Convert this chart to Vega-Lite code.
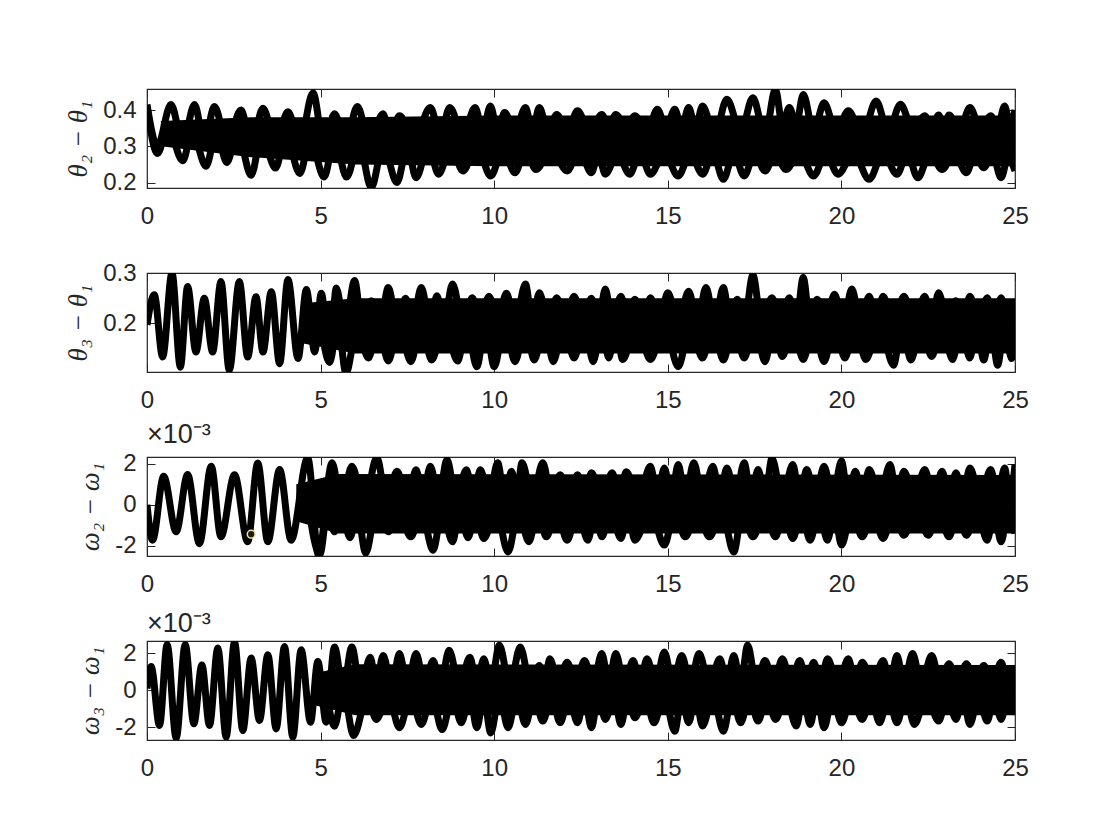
{
"$schema": "https://vega.github.io/schema/vega-lite/v6.json",
"background": "white",
"padding": {"left": 64, "top": 87, "right": 20, "bottom": 20},
"spacing": 85,
"bounds": "flush",
"datasets": {
"band": [
{"p":1,"t":0.4,"lo":0.30,"hi":0.37},{"p":1,"t":3,"lo":0.27,"hi":0.38},{"p":1,"t":6,"lo":0.25,"hi":0.38},{"p":1,"t":10,"lo":0.245,"hi":0.385},{"p":1,"t":15,"lo":0.245,"hi":0.385},{"p":1,"t":20,"lo":0.245,"hi":0.385},{"p":1,"t":25,"lo":0.245,"hi":0.385},
{"p":2,"t":4.5,"lo":0.16,"hi":0.24},{"p":2,"t":6,"lo":0.14,"hi":0.25},{"p":2,"t":10,"lo":0.14,"hi":0.25},{"p":2,"t":25,"lo":0.14,"hi":0.25},
{"p":3,"t":4.3,"lo":-0.8,"hi":1.0},{"p":3,"t":5.5,"lo":-1.4,"hi":1.5},{"p":3,"t":25,"lo":-1.4,"hi":1.45},
{"p":4,"t":4.8,"lo":-0.8,"hi":0.9},{"p":4,"t":6,"lo":-1.35,"hi":1.4},{"p":4,"t":25,"lo":-1.35,"hi":1.35}
],
"marker": [{"p":3,"t":3.0,"v":-1.43}],
"lines": [
{"p":1,"s":"u","t":0,"v":0.415},{"p":1,"s":"u","t":0.3,"v":0.30},{"p":1,"s":"u","t":0.69,"v":0.415},{"p":1,"s":"u","t":1.03,"v":0.31},{"p":1,"s":"u","t":1.37,"v":0.415},{"p":1,"s":"u","t":1.65,"v":0.31},{"p":1,"s":"u","t":1.94,"v":0.41},{"p":1,"s":"u","t":2.3,"v":0.31},{"p":1,"s":"u","t":2.71,"v":0.40},{"p":1,"s":"u","t":3.0,"v":0.30},{"p":1,"s":"u","t":3.34,"v":0.405},{"p":1,"s":"u","t":3.7,"v":0.31},{"p":1,"s":"u","t":4.06,"v":0.395},{"p":1,"s":"u","t":4.4,"v":0.31},{"p":1,"s":"u","t":4.78,"v":0.448},{"p":1,"s":"u","t":5.1,"v":0.30},{"p":1,"s":"u","t":5.4,"v":0.39},{"p":1,"s":"u","t":5.72,"v":0.31},{"p":1,"s":"u","t":6.06,"v":0.41},{"p":1,"s":"u","t":6.4,"v":0.31},{"p":1,"s":"u","t":6.8,"v":0.39},{"p":1,"s":"u","t":7.0,"v":0.32},{"p":1,"s":"u","t":7.27,"v":0.384},{"p":1,"s":"u","t":7.7,"v":0.32},{"p":1,"s":"u","t":8.16,"v":0.407},{"p":1,"s":"u","t":8.45,"v":0.33},{"p":1,"s":"u","t":8.72,"v":0.407},{"p":1,"s":"u","t":9.1,"v":0.33},{"p":1,"s":"u","t":9.45,"v":0.407},{"p":1,"s":"u","t":9.67,"v":0.34},{"p":1,"s":"u","t":9.89,"v":0.411},{"p":1,"s":"u","t":10.1,"v":0.34},{"p":1,"s":"u","t":10.3,"v":0.393},{"p":1,"s":"u","t":10.6,"v":0.34},{"p":1,"s":"u","t":10.9,"v":0.407},{"p":1,"s":"u","t":11.1,"v":0.34},{"p":1,"s":"u","t":11.3,"v":0.407},{"p":1,"s":"u","t":11.55,"v":0.34},{"p":1,"s":"u","t":11.8,"v":0.388},{"p":1,"s":"u","t":12.1,"v":0.34},{"p":1,"s":"u","t":12.4,"v":0.398},{"p":1,"s":"u","t":12.75,"v":0.34},{"p":1,"s":"u","t":13.1,"v":0.388},{"p":1,"s":"u","t":13.3,"v":0.35},{"p":1,"s":"u","t":13.5,"v":0.388},{"p":1,"s":"u","t":13.8,"v":0.35},{"p":1,"s":"u","t":14.05,"v":0.384},{"p":1,"s":"u","t":14.4,"v":0.34},{"p":1,"s":"u","t":14.7,"v":0.402},{"p":1,"s":"u","t":14.95,"v":0.35},{"p":1,"s":"u","t":15.2,"v":0.402},{"p":1,"s":"u","t":15.4,"v":0.35},{"p":1,"s":"u","t":15.6,"v":0.407},{"p":1,"s":"u","t":15.8,"v":0.35},{"p":1,"s":"u","t":16.0,"v":0.411},{"p":1,"s":"u","t":16.35,"v":0.33},{"p":1,"s":"u","t":16.7,"v":0.43},{"p":1,"s":"u","t":17.1,"v":0.34},{"p":1,"s":"u","t":17.45,"v":0.434},{"p":1,"s":"u","t":17.8,"v":0.33},{"p":1,"s":"u","t":18.1,"v":0.457},{"p":1,"s":"u","t":18.3,"v":0.36},{"p":1,"s":"u","t":18.5,"v":0.407},{"p":1,"s":"u","t":18.7,"v":0.36},{"p":1,"s":"u","t":18.9,"v":0.443},{"p":1,"s":"u","t":19.2,"v":0.34},{"p":1,"s":"u","t":19.5,"v":0.42},{"p":1,"s":"u","t":19.85,"v":0.34},{"p":1,"s":"u","t":20.2,"v":0.398},{"p":1,"s":"u","t":20.6,"v":0.33},{"p":1,"s":"u","t":21.0,"v":0.425},{"p":1,"s":"u","t":21.35,"v":0.34},{"p":1,"s":"u","t":21.7,"v":0.416},{"p":1,"s":"u","t":22.05,"v":0.35},{"p":1,"s":"u","t":22.4,"v":0.384},{"p":1,"s":"u","t":22.6,"v":0.35},{"p":1,"s":"u","t":22.8,"v":0.386},{"p":1,"s":"u","t":22.95,"v":0.35},{"p":1,"s":"u","t":23.1,"v":0.386},{"p":1,"s":"u","t":23.4,"v":0.34},{"p":1,"s":"u","t":23.7,"v":0.407},{"p":1,"s":"u","t":24.0,"v":0.35},{"p":1,"s":"u","t":24.3,"v":0.384},{"p":1,"s":"u","t":24.5,"v":0.35},{"p":1,"s":"u","t":24.7,"v":0.411},{"p":1,"s":"u","t":24.85,"v":0.36},{"p":1,"s":"u","t":25,"v":0.40},
{"p":1,"s":"l","t":0,"v":0.41},{"p":1,"s":"l","t":0.3,"v":0.28},{"p":1,"s":"l","t":0.6,"v":0.35},{"p":1,"s":"l","t":1.03,"v":0.26},{"p":1,"s":"l","t":1.3,"v":0.34},{"p":1,"s":"l","t":1.7,"v":0.245},{"p":1,"s":"l","t":2.0,"v":0.34},{"p":1,"s":"l","t":2.3,"v":0.255},{"p":1,"s":"l","t":2.6,"v":0.34},{"p":1,"s":"l","t":3.0,"v":0.22},{"p":1,"s":"l","t":3.3,"v":0.33},{"p":1,"s":"l","t":3.7,"v":0.24},{"p":1,"s":"l","t":4.0,"v":0.33},{"p":1,"s":"l","t":4.4,"v":0.225},{"p":1,"s":"l","t":4.7,"v":0.32},{"p":1,"s":"l","t":5.1,"v":0.215},{"p":1,"s":"l","t":5.4,"v":0.32},{"p":1,"s":"l","t":5.75,"v":0.215},{"p":1,"s":"l","t":6.1,"v":0.31},{"p":1,"s":"l","t":6.46,"v":0.186},{"p":1,"s":"l","t":6.8,"v":0.30},{"p":1,"s":"l","t":7.2,"v":0.20},{"p":1,"s":"l","t":7.5,"v":0.30},{"p":1,"s":"l","t":7.75,"v":0.213},{"p":1,"s":"l","t":8.1,"v":0.30},{"p":1,"s":"l","t":8.4,"v":0.223},{"p":1,"s":"l","t":8.75,"v":0.30},{"p":1,"s":"l","t":9.1,"v":0.232},{"p":1,"s":"l","t":9.5,"v":0.30},{"p":1,"s":"l","t":9.9,"v":0.218},{"p":1,"s":"l","t":10.25,"v":0.29},{"p":1,"s":"l","t":10.6,"v":0.227},{"p":1,"s":"l","t":10.9,"v":0.29},{"p":1,"s":"l","t":11.2,"v":0.236},{"p":1,"s":"l","t":11.65,"v":0.29},{"p":1,"s":"l","t":12.1,"v":0.232},{"p":1,"s":"l","t":12.45,"v":0.29},{"p":1,"s":"l","t":12.8,"v":0.227},{"p":1,"s":"l","t":13.0,"v":0.28},{"p":1,"s":"l","t":13.2,"v":0.223},{"p":1,"s":"l","t":13.55,"v":0.28},{"p":1,"s":"l","t":13.9,"v":0.223},{"p":1,"s":"l","t":14.2,"v":0.28},{"p":1,"s":"l","t":14.5,"v":0.223},{"p":1,"s":"l","t":14.9,"v":0.28},{"p":1,"s":"l","t":15.3,"v":0.218},{"p":1,"s":"l","t":15.65,"v":0.28},{"p":1,"s":"l","t":16.0,"v":0.223},{"p":1,"s":"l","t":16.3,"v":0.28},{"p":1,"s":"l","t":16.6,"v":0.209},{"p":1,"s":"l","t":16.9,"v":0.28},{"p":1,"s":"l","t":17.2,"v":0.218},{"p":1,"s":"l","t":17.5,"v":0.28},{"p":1,"s":"l","t":17.8,"v":0.232},{"p":1,"s":"l","t":18.1,"v":0.28},{"p":1,"s":"l","t":18.4,"v":0.236},{"p":1,"s":"l","t":18.8,"v":0.28},{"p":1,"s":"l","t":19.2,"v":0.218},{"p":1,"s":"l","t":19.55,"v":0.28},{"p":1,"s":"l","t":19.9,"v":0.223},{"p":1,"s":"l","t":20.35,"v":0.28},{"p":1,"s":"l","t":20.8,"v":0.209},{"p":1,"s":"l","t":21.2,"v":0.28},{"p":1,"s":"l","t":21.6,"v":0.223},{"p":1,"s":"l","t":21.9,"v":0.28},{"p":1,"s":"l","t":22.2,"v":0.213},{"p":1,"s":"l","t":22.55,"v":0.28},{"p":1,"s":"l","t":22.9,"v":0.236},{"p":1,"s":"l","t":23.25,"v":0.28},{"p":1,"s":"l","t":23.6,"v":0.227},{"p":1,"s":"l","t":23.85,"v":0.28},{"p":1,"s":"l","t":24.1,"v":0.241},{"p":1,"s":"l","t":24.35,"v":0.28},{"p":1,"s":"l","t":24.6,"v":0.213},{"p":1,"s":"l","t":24.8,"v":0.27},{"p":1,"s":"l","t":25,"v":0.232},
{"p":2,"s":"u","t":0,"v":0.197},{"p":2,"s":"u","t":0.21,"v":0.257},{"p":2,"s":"u","t":0.45,"v":0.133},{"p":2,"s":"u","t":0.72,"v":0.3},{"p":2,"s":"u","t":0.96,"v":0.113},{"p":2,"s":"u","t":1.17,"v":0.273},{"p":2,"s":"u","t":1.41,"v":0.143},{"p":2,"s":"u","t":1.65,"v":0.25},{"p":2,"s":"u","t":1.89,"v":0.143},{"p":2,"s":"u","t":2.13,"v":0.283},{"p":2,"s":"u","t":2.37,"v":0.107},{"p":2,"s":"u","t":2.66,"v":0.283},{"p":2,"s":"u","t":2.9,"v":0.133},{"p":2,"s":"u","t":3.14,"v":0.253},{"p":2,"s":"u","t":3.34,"v":0.143},{"p":2,"s":"u","t":3.58,"v":0.263},{"p":2,"s":"u","t":3.82,"v":0.12},{"p":2,"s":"u","t":4.06,"v":0.287},{"p":2,"s":"u","t":4.35,"v":0.13},{"p":2,"s":"u","t":4.59,"v":0.267},{"p":2,"s":"u","t":4.83,"v":0.143},{"p":2,"s":"u","t":5.02,"v":0.26},{"p":2,"s":"u","t":5.26,"v":0.123},{"p":2,"s":"u","t":5.45,"v":0.27},{"p":2,"s":"u","t":5.7,"v":0.19},{"p":2,"s":"u","t":5.98,"v":0.285},{"p":2,"s":"u","t":6.2,"v":0.19},{"p":2,"s":"u","t":6.46,"v":0.245},{"p":2,"s":"u","t":6.7,"v":0.19},{"p":2,"s":"u","t":6.95,"v":0.271},{"p":2,"s":"u","t":7.2,"v":0.2},{"p":2,"s":"u","t":7.45,"v":0.25},{"p":2,"s":"u","t":7.65,"v":0.2},{"p":2,"s":"u","t":7.9,"v":0.271},{"p":2,"s":"u","t":8.15,"v":0.2},{"p":2,"s":"u","t":8.35,"v":0.255},{"p":2,"s":"u","t":8.55,"v":0.2},{"p":2,"s":"u","t":8.8,"v":0.278},{"p":2,"s":"u","t":9.1,"v":0.2},{"p":2,"s":"u","t":9.37,"v":0.251},{"p":2,"s":"u","t":9.6,"v":0.2},{"p":2,"s":"u","t":9.85,"v":0.254},{"p":2,"s":"u","t":10.1,"v":0.2},{"p":2,"s":"u","t":10.35,"v":0.26},{"p":2,"s":"u","t":10.6,"v":0.2},{"p":2,"s":"u","t":10.9,"v":0.278},{"p":2,"s":"u","t":11.1,"v":0.2},{"p":2,"s":"u","t":11.3,"v":0.261},{"p":2,"s":"u","t":11.55,"v":0.2},{"p":2,"s":"u","t":11.8,"v":0.251},{"p":2,"s":"u","t":12.05,"v":0.2},{"p":2,"s":"u","t":12.3,"v":0.254},{"p":2,"s":"u","t":12.55,"v":0.2},{"p":2,"s":"u","t":12.8,"v":0.25},{"p":2,"s":"u","t":13.0,"v":0.2},{"p":2,"s":"u","t":13.2,"v":0.268},{"p":2,"s":"u","t":13.4,"v":0.2},{"p":2,"s":"u","t":13.65,"v":0.254},{"p":2,"s":"u","t":13.85,"v":0.2},{"p":2,"s":"u","t":14.05,"v":0.248},{"p":2,"s":"u","t":14.3,"v":0.2},{"p":2,"s":"u","t":14.5,"v":0.251},{"p":2,"s":"u","t":14.75,"v":0.2},{"p":2,"s":"u","t":15.0,"v":0.261},{"p":2,"s":"u","t":15.3,"v":0.2},{"p":2,"s":"u","t":15.6,"v":0.264},{"p":2,"s":"u","t":15.85,"v":0.2},{"p":2,"s":"u","t":16.1,"v":0.271},{"p":2,"s":"u","t":16.35,"v":0.2},{"p":2,"s":"u","t":16.6,"v":0.271},{"p":2,"s":"u","t":16.8,"v":0.2},{"p":2,"s":"u","t":17.0,"v":0.248},{"p":2,"s":"u","t":17.2,"v":0.2},{"p":2,"s":"u","t":17.45,"v":0.296},{"p":2,"s":"u","t":17.7,"v":0.2},{"p":2,"s":"u","t":18.0,"v":0.251},{"p":2,"s":"u","t":18.25,"v":0.2},{"p":2,"s":"u","t":18.5,"v":0.251},{"p":2,"s":"u","t":18.7,"v":0.2},{"p":2,"s":"u","t":18.9,"v":0.291},{"p":2,"s":"u","t":19.1,"v":0.2},{"p":2,"s":"u","t":19.3,"v":0.248},{"p":2,"s":"u","t":19.55,"v":0.2},{"p":2,"s":"u","t":19.8,"v":0.258},{"p":2,"s":"u","t":20.05,"v":0.2},{"p":2,"s":"u","t":20.3,"v":0.268},{"p":2,"s":"u","t":20.55,"v":0.2},{"p":2,"s":"u","t":20.8,"v":0.254},{"p":2,"s":"u","t":21.0,"v":0.2},{"p":2,"s":"u","t":21.2,"v":0.254},{"p":2,"s":"u","t":21.5,"v":0.2},{"p":2,"s":"u","t":21.8,"v":0.254},{"p":2,"s":"u","t":22.1,"v":0.2},{"p":2,"s":"u","t":22.4,"v":0.254},{"p":2,"s":"u","t":22.6,"v":0.2},{"p":2,"s":"u","t":22.8,"v":0.261},{"p":2,"s":"u","t":23.05,"v":0.2},{"p":2,"s":"u","t":23.3,"v":0.245},{"p":2,"s":"u","t":23.5,"v":0.2},{"p":2,"s":"u","t":23.7,"v":0.254},{"p":2,"s":"u","t":23.95,"v":0.2},{"p":2,"s":"u","t":24.2,"v":0.251},{"p":2,"s":"u","t":24.4,"v":0.2},{"p":2,"s":"u","t":24.6,"v":0.251},{"p":2,"s":"u","t":24.8,"v":0.2},{"p":2,"s":"u","t":25,"v":0.245},
{"p":2,"s":"l","t":5.0,"v":0.2},{"p":2,"s":"l","t":5.26,"v":0.123},{"p":2,"s":"l","t":5.5,"v":0.2},{"p":2,"s":"l","t":5.73,"v":0.101},{"p":2,"s":"l","t":6.05,"v":0.19},{"p":2,"s":"l","t":6.38,"v":0.131},{"p":2,"s":"l","t":6.65,"v":0.2},{"p":2,"s":"l","t":6.95,"v":0.125},{"p":2,"s":"l","t":7.25,"v":0.2},{"p":2,"s":"l","t":7.6,"v":0.124},{"p":2,"s":"l","t":7.9,"v":0.2},{"p":2,"s":"l","t":8.2,"v":0.127},{"p":2,"s":"l","t":8.55,"v":0.2},{"p":2,"s":"l","t":8.95,"v":0.125},{"p":2,"s":"l","t":9.2,"v":0.2},{"p":2,"s":"l","t":9.5,"v":0.114},{"p":2,"s":"l","t":9.75,"v":0.2},{"p":2,"s":"l","t":10.0,"v":0.114},{"p":2,"s":"l","t":10.3,"v":0.2},{"p":2,"s":"l","t":10.6,"v":0.124},{"p":2,"s":"l","t":10.9,"v":0.2},{"p":2,"s":"l","t":11.15,"v":0.127},{"p":2,"s":"l","t":11.45,"v":0.2},{"p":2,"s":"l","t":11.7,"v":0.124},{"p":2,"s":"l","t":12.0,"v":0.2},{"p":2,"s":"l","t":12.3,"v":0.131},{"p":2,"s":"l","t":12.6,"v":0.2},{"p":2,"s":"l","t":12.85,"v":0.124},{"p":2,"s":"l","t":13.1,"v":0.2},{"p":2,"s":"l","t":13.3,"v":0.131},{"p":2,"s":"l","t":13.5,"v":0.2},{"p":2,"s":"l","t":13.7,"v":0.128},{"p":2,"s":"l","t":14.1,"v":0.2},{"p":2,"s":"l","t":14.5,"v":0.128},{"p":2,"s":"l","t":14.9,"v":0.2},{"p":2,"s":"l","t":15.3,"v":0.114},{"p":2,"s":"l","t":15.65,"v":0.2},{"p":2,"s":"l","t":16.0,"v":0.131},{"p":2,"s":"l","t":16.3,"v":0.2},{"p":2,"s":"l","t":16.6,"v":0.127},{"p":2,"s":"l","t":16.9,"v":0.2},{"p":2,"s":"l","t":17.2,"v":0.131},{"p":2,"s":"l","t":17.5,"v":0.2},{"p":2,"s":"l","t":17.8,"v":0.124},{"p":2,"s":"l","t":18.05,"v":0.2},{"p":2,"s":"l","t":18.3,"v":0.134},{"p":2,"s":"l","t":18.6,"v":0.2},{"p":2,"s":"l","t":18.9,"v":0.128},{"p":2,"s":"l","t":19.2,"v":0.2},{"p":2,"s":"l","t":19.5,"v":0.124},{"p":2,"s":"l","t":19.8,"v":0.2},{"p":2,"s":"l","t":20.1,"v":0.131},{"p":2,"s":"l","t":20.4,"v":0.2},{"p":2,"s":"l","t":20.7,"v":0.128},{"p":2,"s":"l","t":21.1,"v":0.2},{"p":2,"s":"l","t":21.5,"v":0.117},{"p":2,"s":"l","t":21.75,"v":0.2},{"p":2,"s":"l","t":22.0,"v":0.127},{"p":2,"s":"l","t":22.3,"v":0.2},{"p":2,"s":"l","t":22.6,"v":0.134},{"p":2,"s":"l","t":22.9,"v":0.2},{"p":2,"s":"l","t":23.2,"v":0.128},{"p":2,"s":"l","t":23.45,"v":0.2},{"p":2,"s":"l","t":23.7,"v":0.131},{"p":2,"s":"l","t":23.9,"v":0.2},{"p":2,"s":"l","t":24.1,"v":0.127},{"p":2,"s":"l","t":24.3,"v":0.2},{"p":2,"s":"l","t":24.5,"v":0.117},{"p":2,"s":"l","t":24.7,"v":0.2},{"p":2,"s":"l","t":24.9,"v":0.13},{"p":2,"s":"l","t":25,"v":0.17},
{"p":3,"s":"u","t":0,"v":0},{"p":3,"s":"u","t":0.16,"v":-1.72},{"p":3,"s":"u","t":0.48,"v":1.38},{"p":3,"s":"u","t":0.84,"v":-1.31},{"p":3,"s":"u","t":1.17,"v":1.47},{"p":3,"s":"u","t":1.51,"v":-1.89},{"p":3,"s":"u","t":1.85,"v":1.87},{"p":3,"s":"u","t":2.13,"v":-1.56},{"p":3,"s":"u","t":2.52,"v":1.46},{"p":3,"s":"u","t":2.9,"v":-1.8},{"p":3,"s":"u","t":3.19,"v":2.03},{"p":3,"s":"u","t":3.48,"v":-1.8},{"p":3,"s":"u","t":3.82,"v":1.71},{"p":3,"s":"u","t":4.15,"v":-1.72},{"p":3,"s":"u","t":4.63,"v":2.28},{"p":3,"s":"u","t":4.94,"v":-2.46},{"p":3,"s":"u","t":5.33,"v":2.04},{"p":3,"s":"u","t":5.6,"v":0.0},{"p":3,"s":"u","t":5.9,"v":1.87},{"p":3,"s":"u","t":6.25,"v":0.0},{"p":3,"s":"u","t":6.62,"v":2.3},{"p":3,"s":"u","t":6.9,"v":0.2},{"p":3,"s":"u","t":7.2,"v":1.63},{"p":3,"s":"u","t":7.5,"v":0.2},{"p":3,"s":"u","t":7.75,"v":1.7},{"p":3,"s":"u","t":7.95,"v":0.3},{"p":3,"s":"u","t":8.16,"v":1.87},{"p":3,"s":"u","t":8.4,"v":0.3},{"p":3,"s":"u","t":8.64,"v":2.2},{"p":3,"s":"u","t":8.9,"v":0.3},{"p":3,"s":"u","t":9.2,"v":1.7},{"p":3,"s":"u","t":9.4,"v":0.3},{"p":3,"s":"u","t":9.6,"v":1.7},{"p":3,"s":"u","t":9.85,"v":0.3},{"p":3,"s":"u","t":10.1,"v":2.04},{"p":3,"s":"u","t":10.3,"v":0.3},{"p":3,"s":"u","t":10.5,"v":1.63},{"p":3,"s":"u","t":10.65,"v":0.4},{"p":3,"s":"u","t":10.8,"v":2.04},{"p":3,"s":"u","t":11.1,"v":0.3},{"p":3,"s":"u","t":11.4,"v":2.04},{"p":3,"s":"u","t":11.65,"v":0.3},{"p":3,"s":"u","t":11.9,"v":1.46},{"p":3,"s":"u","t":12.15,"v":0.3},{"p":3,"s":"u","t":12.4,"v":1.46},{"p":3,"s":"u","t":12.6,"v":0.3},{"p":3,"s":"u","t":12.8,"v":1.55},{"p":3,"s":"u","t":13.1,"v":0.3},{"p":3,"s":"u","t":13.4,"v":1.55},{"p":3,"s":"u","t":13.6,"v":0.3},{"p":3,"s":"u","t":13.8,"v":1.6},{"p":3,"s":"u","t":14.15,"v":0.3},{"p":3,"s":"u","t":14.5,"v":1.87},{"p":3,"s":"u","t":14.7,"v":0.3},{"p":3,"s":"u","t":14.9,"v":1.79},{"p":3,"s":"u","t":15.1,"v":0.3},{"p":3,"s":"u","t":15.3,"v":1.95},{"p":3,"s":"u","t":15.5,"v":0.3},{"p":3,"s":"u","t":15.75,"v":2.04},{"p":3,"s":"u","t":16.0,"v":0.3},{"p":3,"s":"u","t":16.3,"v":1.87},{"p":3,"s":"u","t":16.5,"v":0.3},{"p":3,"s":"u","t":16.7,"v":1.79},{"p":3,"s":"u","t":16.95,"v":0.3},{"p":3,"s":"u","t":17.2,"v":2.04},{"p":3,"s":"u","t":17.4,"v":0.3},{"p":3,"s":"u","t":17.6,"v":1.71},{"p":3,"s":"u","t":17.8,"v":0.3},{"p":3,"s":"u","t":18.0,"v":2.25},{"p":3,"s":"u","t":18.3,"v":0.3},{"p":3,"s":"u","t":18.6,"v":1.95},{"p":3,"s":"u","t":18.8,"v":0.3},{"p":3,"s":"u","t":19.0,"v":1.71},{"p":3,"s":"u","t":19.25,"v":0.3},{"p":3,"s":"u","t":19.5,"v":1.87},{"p":3,"s":"u","t":19.75,"v":0.3},{"p":3,"s":"u","t":20.0,"v":2.12},{"p":3,"s":"u","t":20.2,"v":0.3},{"p":3,"s":"u","t":20.4,"v":1.63},{"p":3,"s":"u","t":20.6,"v":0.3},{"p":3,"s":"u","t":20.8,"v":1.71},{"p":3,"s":"u","t":21.1,"v":0.3},{"p":3,"s":"u","t":21.4,"v":1.95},{"p":3,"s":"u","t":21.6,"v":0.3},{"p":3,"s":"u","t":21.8,"v":1.63},{"p":3,"s":"u","t":22.1,"v":0.3},{"p":3,"s":"u","t":22.4,"v":1.71},{"p":3,"s":"u","t":22.65,"v":0.3},{"p":3,"s":"u","t":22.9,"v":1.63},{"p":3,"s":"u","t":23.1,"v":0.3},{"p":3,"s":"u","t":23.3,"v":1.55},{"p":3,"s":"u","t":23.5,"v":0.3},{"p":3,"s":"u","t":23.7,"v":1.79},{"p":3,"s":"u","t":24.0,"v":0.3},{"p":3,"s":"u","t":24.3,"v":1.71},{"p":3,"s":"u","t":24.5,"v":0.3},{"p":3,"s":"u","t":24.7,"v":1.79},{"p":3,"s":"u","t":24.85,"v":0.3},{"p":3,"s":"u","t":25,"v":1.95},
{"p":3,"s":"l","t":4.6,"v":0.5},{"p":3,"s":"l","t":4.98,"v":-2.4},{"p":3,"s":"l","t":5.2,"v":-0.3},{"p":3,"s":"l","t":5.4,"v":-1.31},{"p":3,"s":"l","t":5.6,"v":-0.3},{"p":3,"s":"l","t":5.85,"v":-1.6},{"p":3,"s":"l","t":6.05,"v":-0.3},{"p":3,"s":"l","t":6.3,"v":-2.35},{"p":3,"s":"l","t":6.6,"v":-0.3},{"p":3,"s":"l","t":6.95,"v":-1.31},{"p":3,"s":"l","t":7.25,"v":-0.3},{"p":3,"s":"l","t":7.6,"v":-1.56},{"p":3,"s":"l","t":7.9,"v":-0.3},{"p":3,"s":"l","t":8.24,"v":-2.21},{"p":3,"s":"l","t":8.5,"v":-0.3},{"p":3,"s":"l","t":8.8,"v":-1.8},{"p":3,"s":"l","t":9.0,"v":-0.3},{"p":3,"s":"l","t":9.25,"v":-1.6},{"p":3,"s":"l","t":9.45,"v":-0.3},{"p":3,"s":"l","t":9.7,"v":-1.64},{"p":3,"s":"l","t":10.05,"v":-0.3},{"p":3,"s":"l","t":10.4,"v":-2.29},{"p":3,"s":"l","t":10.7,"v":-0.3},{"p":3,"s":"l","t":11.0,"v":-1.8},{"p":3,"s":"l","t":11.25,"v":-0.3},{"p":3,"s":"l","t":11.5,"v":-1.56},{"p":3,"s":"l","t":11.8,"v":-0.3},{"p":3,"s":"l","t":12.1,"v":-1.72},{"p":3,"s":"l","t":12.4,"v":-0.3},{"p":3,"s":"l","t":12.7,"v":-1.72},{"p":3,"s":"l","t":12.9,"v":-0.3},{"p":3,"s":"l","t":13.1,"v":-1.56},{"p":3,"s":"l","t":13.35,"v":-0.3},{"p":3,"s":"l","t":13.65,"v":-1.64},{"p":3,"s":"l","t":13.85,"v":-0.3},{"p":3,"s":"l","t":14.05,"v":-1.72},{"p":3,"s":"l","t":14.5,"v":-0.3},{"p":3,"s":"l","t":14.9,"v":-1.96},{"p":3,"s":"l","t":15.2,"v":-0.3},{"p":3,"s":"l","t":15.5,"v":-1.56},{"p":3,"s":"l","t":15.85,"v":-0.3},{"p":3,"s":"l","t":16.2,"v":-1.56},{"p":3,"s":"l","t":16.55,"v":-0.3},{"p":3,"s":"l","t":16.9,"v":-2.29},{"p":3,"s":"l","t":17.15,"v":-0.3},{"p":3,"s":"l","t":17.45,"v":-1.56},{"p":3,"s":"l","t":17.8,"v":-0.3},{"p":3,"s":"l","t":18.1,"v":-1.56},{"p":3,"s":"l","t":18.35,"v":-0.3},{"p":3,"s":"l","t":18.6,"v":-1.64},{"p":3,"s":"l","t":18.85,"v":-0.3},{"p":3,"s":"l","t":19.1,"v":-1.72},{"p":3,"s":"l","t":19.35,"v":-0.3},{"p":3,"s":"l","t":19.6,"v":-1.72},{"p":3,"s":"l","t":19.8,"v":-0.3},{"p":3,"s":"l","t":20.0,"v":-1.96},{"p":3,"s":"l","t":20.3,"v":-0.3},{"p":3,"s":"l","t":20.6,"v":-1.56},{"p":3,"s":"l","t":20.9,"v":-0.3},{"p":3,"s":"l","t":21.2,"v":-1.64},{"p":3,"s":"l","t":21.5,"v":-0.3},{"p":3,"s":"l","t":21.8,"v":-1.48},{"p":3,"s":"l","t":22.15,"v":-0.3},{"p":3,"s":"l","t":22.5,"v":-1.48},{"p":3,"s":"l","t":22.8,"v":-0.3},{"p":3,"s":"l","t":23.1,"v":-1.56},{"p":3,"s":"l","t":23.35,"v":-0.3},{"p":3,"s":"l","t":23.6,"v":-1.48},{"p":3,"s":"l","t":23.9,"v":-0.3},{"p":3,"s":"l","t":24.2,"v":-1.72},{"p":3,"s":"l","t":24.4,"v":-0.3},{"p":3,"s":"l","t":24.6,"v":-1.8},{"p":3,"s":"l","t":24.8,"v":-0.3},{"p":3,"s":"l","t":25,"v":-1.4},
{"p":4,"s":"u","t":0,"v":0.09},{"p":4,"s":"u","t":0.12,"v":1.27},{"p":4,"s":"u","t":0.36,"v":-1.91},{"p":4,"s":"u","t":0.58,"v":2.46},{"p":4,"s":"u","t":0.84,"v":-2.6},{"p":4,"s":"u","t":1.1,"v":2.46},{"p":4,"s":"u","t":1.35,"v":-1.82},{"p":4,"s":"u","t":1.58,"v":1.36},{"p":4,"s":"u","t":1.8,"v":-1.91},{"p":4,"s":"u","t":2.04,"v":2.27},{"p":4,"s":"u","t":2.28,"v":-2.54},{"p":4,"s":"u","t":2.52,"v":2.6},{"p":4,"s":"u","t":2.76,"v":-2.18},{"p":4,"s":"u","t":3.0,"v":1.73},{"p":4,"s":"u","t":3.24,"v":-1.64},{"p":4,"s":"u","t":3.48,"v":1.91},{"p":4,"s":"u","t":3.72,"v":-2.09},{"p":4,"s":"u","t":3.96,"v":2.36},{"p":4,"s":"u","t":4.2,"v":-2.54},{"p":4,"s":"u","t":4.44,"v":2.18},{"p":4,"s":"u","t":4.71,"v":-1.73},{"p":4,"s":"u","t":4.92,"v":1.55},{"p":4,"s":"u","t":5.16,"v":-1.73},{"p":4,"s":"u","t":5.4,"v":2.33},{"p":4,"s":"u","t":5.65,"v":0.0},{"p":4,"s":"u","t":5.9,"v":2.33},{"p":4,"s":"u","t":6.15,"v":0.0},{"p":4,"s":"u","t":6.43,"v":1.78},{"p":4,"s":"u","t":6.6,"v":0.2},{"p":4,"s":"u","t":6.8,"v":1.87},{"p":4,"s":"u","t":7.05,"v":0.2},{"p":4,"s":"u","t":7.27,"v":1.97},{"p":4,"s":"u","t":7.5,"v":0.2},{"p":4,"s":"u","t":7.75,"v":1.97},{"p":4,"s":"u","t":8.0,"v":0.2},{"p":4,"s":"u","t":8.24,"v":1.6},{"p":4,"s":"u","t":8.45,"v":0.2},{"p":4,"s":"u","t":8.7,"v":2.15},{"p":4,"s":"u","t":9.0,"v":0.2},{"p":4,"s":"u","t":9.3,"v":1.78},{"p":4,"s":"u","t":9.5,"v":0.2},{"p":4,"s":"u","t":9.7,"v":1.69},{"p":4,"s":"u","t":9.9,"v":0.2},{"p":4,"s":"u","t":10.15,"v":2.42},{"p":4,"s":"u","t":10.45,"v":0.2},{"p":4,"s":"u","t":10.75,"v":2.33},{"p":4,"s":"u","t":11.05,"v":0.2},{"p":4,"s":"u","t":11.3,"v":1.33},{"p":4,"s":"u","t":11.45,"v":0.3},{"p":4,"s":"u","t":11.6,"v":1.69},{"p":4,"s":"u","t":11.85,"v":0.3},{"p":4,"s":"u","t":12.1,"v":1.51},{"p":4,"s":"u","t":12.35,"v":0.3},{"p":4,"s":"u","t":12.6,"v":1.6},{"p":4,"s":"u","t":12.85,"v":0.3},{"p":4,"s":"u","t":13.1,"v":1.97},{"p":4,"s":"u","t":13.3,"v":0.3},{"p":4,"s":"u","t":13.5,"v":1.97},{"p":4,"s":"u","t":13.75,"v":0.3},{"p":4,"s":"u","t":14.0,"v":1.6},{"p":4,"s":"u","t":14.2,"v":0.3},{"p":4,"s":"u","t":14.4,"v":1.69},{"p":4,"s":"u","t":14.65,"v":0.3},{"p":4,"s":"u","t":14.9,"v":2.06},{"p":4,"s":"u","t":15.15,"v":0.3},{"p":4,"s":"u","t":15.4,"v":1.87},{"p":4,"s":"u","t":15.65,"v":0.3},{"p":4,"s":"u","t":15.9,"v":1.97},{"p":4,"s":"u","t":16.2,"v":0.3},{"p":4,"s":"u","t":16.5,"v":1.69},{"p":4,"s":"u","t":16.7,"v":0.3},{"p":4,"s":"u","t":16.9,"v":1.87},{"p":4,"s":"u","t":17.1,"v":0.3},{"p":4,"s":"u","t":17.3,"v":2.42},{"p":4,"s":"u","t":17.55,"v":0.3},{"p":4,"s":"u","t":17.8,"v":1.6},{"p":4,"s":"u","t":18.05,"v":0.3},{"p":4,"s":"u","t":18.3,"v":1.69},{"p":4,"s":"u","t":18.55,"v":0.3},{"p":4,"s":"u","t":18.8,"v":1.6},{"p":4,"s":"u","t":19.0,"v":0.3},{"p":4,"s":"u","t":19.2,"v":1.51},{"p":4,"s":"u","t":19.4,"v":0.3},{"p":4,"s":"u","t":19.6,"v":1.69},{"p":4,"s":"u","t":19.9,"v":0.3},{"p":4,"s":"u","t":20.2,"v":1.69},{"p":4,"s":"u","t":20.4,"v":0.3},{"p":4,"s":"u","t":20.6,"v":1.51},{"p":4,"s":"u","t":20.9,"v":0.3},{"p":4,"s":"u","t":21.2,"v":1.6},{"p":4,"s":"u","t":21.4,"v":0.3},{"p":4,"s":"u","t":21.6,"v":1.87},{"p":4,"s":"u","t":21.8,"v":0.3},{"p":4,"s":"u","t":22.05,"v":1.97},{"p":4,"s":"u","t":22.3,"v":0.3},{"p":4,"s":"u","t":22.6,"v":1.87},{"p":4,"s":"u","t":22.85,"v":0.3},{"p":4,"s":"u","t":23.1,"v":1.42},{"p":4,"s":"u","t":23.35,"v":0.3},{"p":4,"s":"u","t":23.6,"v":1.42},{"p":4,"s":"u","t":23.85,"v":0.3},{"p":4,"s":"u","t":24.1,"v":1.33},{"p":4,"s":"u","t":24.35,"v":0.3},{"p":4,"s":"u","t":24.6,"v":1.51},{"p":4,"s":"u","t":24.8,"v":0.3},{"p":4,"s":"u","t":25,"v":1.24},
{"p":4,"s":"l","t":5.2,"v":-0.5},{"p":4,"s":"l","t":5.4,"v":-1.95},{"p":4,"s":"l","t":5.65,"v":0.0},{"p":4,"s":"l","t":5.95,"v":-2.45},{"p":4,"s":"l","t":6.35,"v":-0.3},{"p":4,"s":"l","t":6.6,"v":-1.58},{"p":4,"s":"l","t":6.95,"v":-0.3},{"p":4,"s":"l","t":7.27,"v":-2.03},{"p":4,"s":"l","t":7.6,"v":-0.3},{"p":4,"s":"l","t":7.9,"v":-1.85},{"p":4,"s":"l","t":8.2,"v":-0.3},{"p":4,"s":"l","t":8.5,"v":-2.13},{"p":4,"s":"l","t":8.8,"v":-0.3},{"p":4,"s":"l","t":9.05,"v":-1.76},{"p":4,"s":"l","t":9.3,"v":-0.3},{"p":4,"s":"l","t":9.5,"v":-2.03},{"p":4,"s":"l","t":9.7,"v":-0.3},{"p":4,"s":"l","t":9.9,"v":-2.31},{"p":4,"s":"l","t":10.15,"v":-0.3},{"p":4,"s":"l","t":10.4,"v":-2.03},{"p":4,"s":"l","t":10.65,"v":-0.3},{"p":4,"s":"l","t":10.9,"v":-1.85},{"p":4,"s":"l","t":11.15,"v":-0.3},{"p":4,"s":"l","t":11.4,"v":-1.67},{"p":4,"s":"l","t":11.65,"v":-0.3},{"p":4,"s":"l","t":11.9,"v":-1.76},{"p":4,"s":"l","t":12.15,"v":-0.3},{"p":4,"s":"l","t":12.4,"v":-1.76},{"p":4,"s":"l","t":12.6,"v":-0.3},{"p":4,"s":"l","t":12.8,"v":-2.03},{"p":4,"s":"l","t":13.0,"v":-0.3},{"p":4,"s":"l","t":13.2,"v":-1.58},{"p":4,"s":"l","t":13.45,"v":-0.3},{"p":4,"s":"l","t":13.65,"v":-1.85},{"p":4,"s":"l","t":13.85,"v":-0.3},{"p":4,"s":"l","t":14.05,"v":-1.49},{"p":4,"s":"l","t":14.35,"v":-0.3},{"p":4,"s":"l","t":14.6,"v":-1.76},{"p":4,"s":"l","t":14.9,"v":-0.3},{"p":4,"s":"l","t":15.2,"v":-2.22},{"p":4,"s":"l","t":15.4,"v":-0.3},{"p":4,"s":"l","t":15.6,"v":-1.76},{"p":4,"s":"l","t":15.8,"v":-0.3},{"p":4,"s":"l","t":16.0,"v":-1.94},{"p":4,"s":"l","t":16.3,"v":-0.3},{"p":4,"s":"l","t":16.6,"v":-2.22},{"p":4,"s":"l","t":16.85,"v":-0.3},{"p":4,"s":"l","t":17.1,"v":-1.76},{"p":4,"s":"l","t":17.35,"v":-0.3},{"p":4,"s":"l","t":17.6,"v":-1.67},{"p":4,"s":"l","t":17.85,"v":-0.3},{"p":4,"s":"l","t":18.1,"v":-1.58},{"p":4,"s":"l","t":18.4,"v":-0.3},{"p":4,"s":"l","t":18.7,"v":-1.94},{"p":4,"s":"l","t":18.9,"v":-0.3},{"p":4,"s":"l","t":19.1,"v":-1.85},{"p":4,"s":"l","t":19.3,"v":-0.3},{"p":4,"s":"l","t":19.5,"v":-2.03},{"p":4,"s":"l","t":19.75,"v":-0.3},{"p":4,"s":"l","t":20.0,"v":-1.76},{"p":4,"s":"l","t":20.3,"v":-0.3},{"p":4,"s":"l","t":20.6,"v":-1.58},{"p":4,"s":"l","t":20.85,"v":-0.3},{"p":4,"s":"l","t":21.1,"v":-1.76},{"p":4,"s":"l","t":21.35,"v":-0.3},{"p":4,"s":"l","t":21.6,"v":-1.76},{"p":4,"s":"l","t":21.85,"v":-0.3},{"p":4,"s":"l","t":22.1,"v":-1.85},{"p":4,"s":"l","t":22.45,"v":-0.3},{"p":4,"s":"l","t":22.8,"v":-1.67},{"p":4,"s":"l","t":23.05,"v":-0.3},{"p":4,"s":"l","t":23.3,"v":-1.58},{"p":4,"s":"l","t":23.5,"v":-0.3},{"p":4,"s":"l","t":23.7,"v":-1.85},{"p":4,"s":"l","t":23.95,"v":-0.3},{"p":4,"s":"l","t":24.2,"v":-1.67},{"p":4,"s":"l","t":24.4,"v":-0.3},{"p":4,"s":"l","t":24.6,"v":-1.58},{"p":4,"s":"l","t":24.8,"v":-0.3},{"p":4,"s":"l","t":25,"v":-1.31}
]
},
"vconcat": [
{
"width": 868, "height": 99,
"layer": [
{"data": {"name": "band"}, "transform": [{"filter": "datum.p == 1"}],
 "mark": {"type": "area", "color": "black", "clip": true},
 "encoding": {
  "x": {"field": "t", "type": "quantitative", "scale": {"domain": [0, 25], "nice": false}, "axis": {"orient": "bottom", "values": [0, 5, 10, 15, 20, 25], "title": null, "labelPadding": 24}},
  "y": {"field": "lo", "type": "quantitative", "scale": {"domain": [0.185, 0.458], "nice": false, "zero": false}, "axis": {"orient": "left", "values": [0.2, 0.3, 0.4], "title": "θ₂ − θ₁", "labelPadding": 19}},
  "y2": {"field": "hi"}}},
{"data": {"name": "lines"}, "transform": [{"filter": "datum.p == 1"}],
 "mark": {"type": "line", "color": "black", "strokeWidth": 7, "interpolate": "monotone", "clip": true, "strokeJoin": "round"},
 "encoding": {
  "x": {"field": "t", "type": "quantitative", "scale": {"domain": [0, 25], "nice": false}, "axis": {"orient": "top", "values": [0, 5, 10, 15, 20, 25], "labels": false, "title": null}},
  "y": {"field": "v", "type": "quantitative", "scale": {"domain": [0.185, 0.458], "nice": false, "zero": false}, "axis": {"orient": "right", "values": [0.2, 0.3, 0.4], "labels": false, "title": null}},
  "detail": {"field": "s"}}}
],
"resolve": {"axis": {"x": "independent", "y": "independent"}}
},
{
"width": 868, "height": 99,
"layer": [
{"data": {"name": "band"}, "transform": [{"filter": "datum.p == 2"}],
 "mark": {"type": "area", "color": "black", "clip": true},
 "encoding": {
  "x": {"field": "t", "type": "quantitative", "scale": {"domain": [0, 25], "nice": false}, "axis": {"orient": "bottom", "values": [0, 5, 10, 15, 20, 25], "title": null, "labelPadding": 24}},
  "y": {"field": "lo", "type": "quantitative", "scale": {"domain": [0.1034, 0.3], "nice": false, "zero": false}, "axis": {"orient": "left", "values": [0.2, 0.3], "title": "θ₃ − θ₁", "labelPadding": 19}},
  "y2": {"field": "hi"}}},
{"data": {"name": "lines"}, "transform": [{"filter": "datum.p == 2"}],
 "mark": {"type": "line", "color": "black", "strokeWidth": 7, "interpolate": "monotone", "clip": true, "strokeJoin": "round"},
 "encoding": {
  "x": {"field": "t", "type": "quantitative", "scale": {"domain": [0, 25], "nice": false}, "axis": {"orient": "top", "values": [0, 5, 10, 15, 20, 25], "labels": false, "title": null}},
  "y": {"field": "v", "type": "quantitative", "scale": {"domain": [0.1034, 0.3], "nice": false, "zero": false}, "axis": {"orient": "right", "values": [0.2, 0.3], "labels": false, "title": null}},
  "detail": {"field": "s"}}}
],
"resolve": {"axis": {"x": "independent", "y": "independent"}}
},
{
"width": 868, "height": 99,
"title": {"text": "×10⁻³", "fontSize": 27, "font": "Liberation Sans", "fontWeight": "normal", "color": "#262626", "anchor": "start", "frame": "group", "offset": 3},
"layer": [
{"data": {"name": "band"}, "transform": [{"filter": "datum.p == 3"}],
 "mark": {"type": "area", "color": "black", "clip": true},
 "encoding": {
  "x": {"field": "t", "type": "quantitative", "scale": {"domain": [0, 25], "nice": false}, "axis": {"orient": "bottom", "values": [0, 5, 10, 15, 20, 25], "title": null, "labelPadding": 24}},
  "y": {"field": "lo", "type": "quantitative", "scale": {"domain": [-2.49, 2.32], "nice": false, "zero": false}, "axis": {"orient": "left", "values": [-2, 0, 2], "title": "ω₂ − ω₁", "labelPadding": 19, "labelExpr": "datum.value < 0 ? '-' + abs(datum.value) : '' + datum.value"}},
  "y2": {"field": "hi"}}},
{"data": {"name": "lines"}, "transform": [{"filter": "datum.p == 3"}],
 "mark": {"type": "line", "color": "black", "strokeWidth": 7, "interpolate": "monotone", "clip": true, "strokeJoin": "round"},
 "encoding": {
  "x": {"field": "t", "type": "quantitative", "scale": {"domain": [0, 25], "nice": false}, "axis": {"orient": "top", "values": [0, 5, 10, 15, 20, 25], "labels": false, "title": null}},
  "y": {"field": "v", "type": "quantitative", "scale": {"domain": [-2.49, 2.32], "nice": false, "zero": false}, "axis": {"orient": "right", "values": [-2, 0, 2], "labels": false, "title": null}},
  "detail": {"field": "s"}}},
{"data": {"name": "marker"},
 "mark": {"type": "point", "filled": true, "fill": "#1a1a1a", "stroke": "#ece4a4", "strokeWidth": 1.5, "size": 60, "opacity": 1},
 "encoding": {
  "x": {"field": "t", "type": "quantitative", "axis": null},
  "y": {"field": "v", "type": "quantitative", "axis": null}}}
],
"resolve": {"axis": {"x": "independent", "y": "independent"}}
},
{
"width": 868, "height": 99,
"title": {"text": "×10⁻³", "fontSize": 27, "font": "Liberation Sans", "fontWeight": "normal", "color": "#262626", "anchor": "start", "frame": "group", "offset": 3},
"layer": [
{"data": {"name": "band"}, "transform": [{"filter": "datum.p == 4"}],
 "mark": {"type": "area", "color": "black", "clip": true},
 "encoding": {
  "x": {"field": "t", "type": "quantitative", "scale": {"domain": [0, 25], "nice": false}, "axis": {"orient": "bottom", "values": [0, 5, 10, 15, 20, 25], "title": null, "labelPadding": 24}},
  "y": {"field": "lo", "type": "quantitative", "scale": {"domain": [-2.69, 2.65], "nice": false, "zero": false}, "axis": {"orient": "left", "values": [-2, 0, 2], "title": "ω₃ − ω₁", "labelPadding": 19, "labelExpr": "datum.value < 0 ? '-' + abs(datum.value) : '' + datum.value"}},
  "y2": {"field": "hi"}}},
{"data": {"name": "lines"}, "transform": [{"filter": "datum.p == 4"}],
 "mark": {"type": "line", "color": "black", "strokeWidth": 7, "interpolate": "monotone", "clip": true, "strokeJoin": "round"},
 "encoding": {
  "x": {"field": "t", "type": "quantitative", "scale": {"domain": [0, 25], "nice": false}, "axis": {"orient": "top", "values": [0, 5, 10, 15, 20, 25], "labels": false, "title": null}},
  "y": {"field": "v", "type": "quantitative", "scale": {"domain": [-2.69, 2.65], "nice": false, "zero": false}, "axis": {"orient": "right", "values": [-2, 0, 2], "labels": false, "title": null}},
  "detail": {"field": "s"}}}
],
"resolve": {"axis": {"x": "independent", "y": "independent"}}
}
],
"config": {
 "view": {"stroke": "#262626", "strokeWidth": 1.2},
 "title": {"fontSize": 27, "font": "Liberation Sans", "fontWeight": "normal", "color": "#262626"},
 "axis": {"grid": false, "domain": false, "ticks": true, "tickSize": -8, "tickColor": "#262626", "tickWidth": 1, "labelFont": "Liberation Sans", "labelFontSize": 24, "labelColor": "#262626", "labelOverlap": false, "labelFlush": false, "titleFont": "Liberation Serif", "titleFontStyle": "italic", "titleFontWeight": "normal", "titleFontSize": 27, "titleColor": "#262626", "titlePadding": 10}
}
}
